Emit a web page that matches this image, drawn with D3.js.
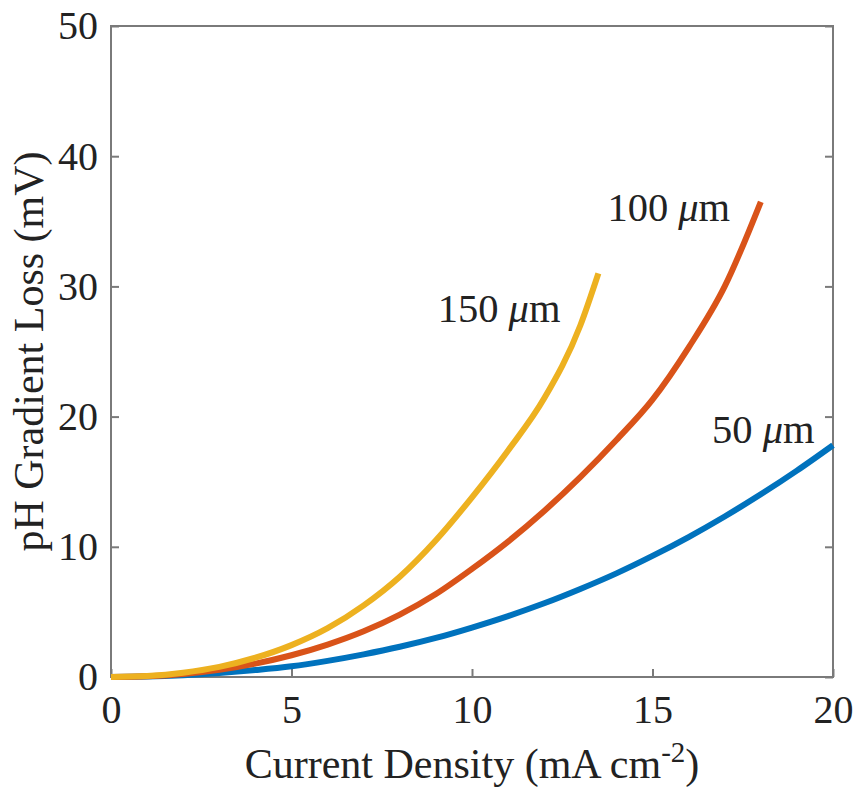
<!DOCTYPE html>
<html>
<head>
<meta charset="utf-8">
<script src="https://cdn.jsdelivr.net/npm/d3@7"></script>
<style>
  body { margin: 0; background: #fff; }
  text { font-family: "Liberation Serif", "Times New Roman", serif; fill: #222; }
</style>
</head>
<body>
<div id="chart"></div>
<script>
// Curve data (current density in mA cm^-2, loss in mV)
const xTicks = [0, 5, 10, 15, 20];
const yTicks = [0, 10, 20, 30, 40, 50];

const density50 = [0, 1, 2, 3, 4, 5, 6, 7, 8, 9, 10, 11, 12, 13, 14, 15, 16, 17, 18, 19, 20];
const loss50 = [0, 0.03, 0.13, 0.3, 0.53, 0.82, 1.24, 1.74, 2.32, 3.0, 3.8, 4.68, 5.66, 6.76, 7.96, 9.3, 10.75, 12.33, 14.03, 15.85, 17.8];

const density100 = [0, 1, 2, 3, 4, 5, 6, 7, 8, 9, 10, 11, 12, 13, 14, 15, 16, 17, 18];
const loss100 = [0, 0.05, 0.23, 0.55, 1.03, 1.67, 2.49, 3.51, 4.79, 6.37, 8.3, 10.4, 12.75, 15.35, 18.2, 21.3, 25.3, 30.0, 36.5];

const density150 = [0, 1, 2, 3, 4, 5, 6, 7, 8, 9, 10, 11, 12, 13, 13.5];
const loss150 = [0, 0.08, 0.33, 0.78, 1.48, 2.45, 3.75, 5.5, 7.7, 10.5, 13.8, 17.4, 21.4, 27.0, 31.0];

const seriesLabels = ["50 \u03bcm", "100 \u03bcm", "150 \u03bcm"];

// Set the dimensions and margins of the graph
const margin = { top: 26, right: 24, bottom: 116, left: 111 };
const width = 857 - margin.left - margin.right;
const height = 793 - margin.top - margin.bottom;

const svg = d3
  .select("#chart")
  .append("svg")
  .attr("width", 857)
  .attr("height", 793)
  .append("g")
  .attr("transform", `translate(${margin.left},${margin.top})`);

const x = d3.scaleLinear().domain([0, 20]).range([0, width]);
const y = d3.scaleLinear().domain([0, 50]).range([height, 0]);

const axisColor = "#7a7a7a";

// box
svg
  .append("rect")
  .attr("x", 0)
  .attr("y", 0)
  .attr("width", width)
  .attr("height", height)
  .attr("fill", "none")
  .attr("stroke", axisColor)
  .attr("stroke-width", 2);

// X axis (ticks point inward)
const xAxis = svg
  .append("g")
  .attr("transform", `translate(0, ${height})`)
  .call(d3.axisBottom(x).tickValues(xTicks).tickSize(-8).tickPadding(20));
xAxis.select(".domain").remove();
xAxis.selectAll("line").attr("stroke", axisColor).attr("stroke-width", 2);
xAxis.selectAll("text").style("font-size", "40px").attr("dy", "0.71em").attr("y", 18);

// Y axis
const yAxis = svg
  .append("g")
  .call(d3.axisLeft(y).tickValues(yTicks).tickSize(-8).tickPadding(13));
yAxis.select(".domain").remove();
yAxis.selectAll("line").attr("stroke", axisColor).attr("stroke-width", 2);
yAxis.selectAll("text").style("font-size", "40px");

// right side ticks
const yAxisR = svg
  .append("g")
  .attr("transform", `translate(${width}, 0)`)
  .call(d3.axisRight(y).tickValues(yTicks).tickSize(-8).tickFormat(""));
yAxisR.select(".domain").remove();
yAxisR.selectAll("line").attr("stroke", axisColor).attr("stroke-width", 2);

// lines
const curves = [
  { xs: density50, ys: loss50, color: "#0072BD" },
  { xs: density100, ys: loss100, color: "#D95319" },
  { xs: density150, ys: loss150, color: "#EDB120" },
];

const line = d3
  .line()
  .curve(d3.curveMonotoneX)
  .x((d) => x(d[0]))
  .y((d) => y(d[1]));

curves.forEach((c) => {
  svg
    .append("path")
    .datum(d3.zip(c.xs, c.ys))
    .attr("d", line)
    .attr("fill", "none")
    .attr("stroke", c.color)
    .attr("stroke-width", 6)
    .attr("stroke-linejoin", "round");
});

// curve labels
const labelPos = [
  { dx: 16.65, dy: 18.0 },
  { dx: 13.75, dy: 35.0 },
  { dx: 9.05, dy: 27.3 },
];

seriesLabels.forEach((lab, i) => {
  const parts = lab.split(" ");
  const t = svg
    .append("text")
    .attr("x", x(labelPos[i].dx))
    .attr("y", y(labelPos[i].dy))
    .style("font-size", "40.5px");
  t.append("tspan").text(parts[0] + " ");
  t.append("tspan").style("font-style", "italic").text(parts[1].charAt(0));
  t.append("tspan").text(parts[1].slice(1));
});

// axis labels
const xLabel = svg
  .append("text")
  .attr("x", width / 2)
  .attr("y", height + 101)
  .attr("text-anchor", "middle")
  .style("font-size", "42px");
xLabel.append("tspan").text("Current Density (mA cm");
xLabel.append("tspan").attr("dy", -16).style("font-size", "29px").text("-2");
xLabel.append("tspan").attr("dy", 16).text(")");

svg
  .append("text")
  .attr("transform", "rotate(-90)")
  .attr("x", -height / 2)
  .attr("y", -68)
  .attr("text-anchor", "middle")
  .style("font-size", "42px")
  .text("pH Gradient Loss (mV)");
</script>
</body>
</html>
